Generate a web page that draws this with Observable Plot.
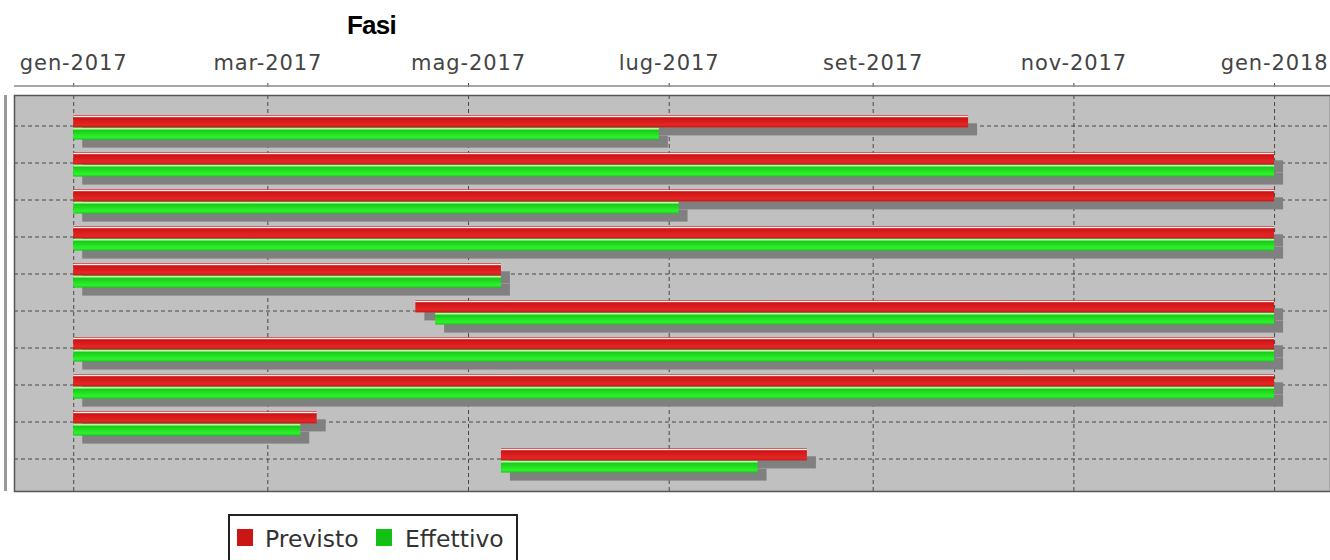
<!DOCTYPE html>
<html>
<head>
<meta charset="utf-8">
<script src="https://cdn.jsdelivr.net/npm/d3@7"></script>
<script src="https://cdn.jsdelivr.net/npm/@observablehq/plot@0.6"></script>
<style>
  html, body { margin: 0; padding: 0; background: #fff; overflow: hidden; }
  #wrap { position: relative; width: 1330px; height: 560px; overflow: hidden; background: #fff; }
  #chart { position: absolute; left: 0; top: 0; }
  #title { position: absolute; left: 347px; top: 12px; font: bold 26px "Liberation Sans", Arial, sans-serif; line-height: 26px; letter-spacing: -0.8px; color: #000; white-space: nowrap; }
  #legend { position: absolute; left: 228px; top: 514px; width: 290px; height: 70px; border: 2px solid #222; box-sizing: border-box; background: #fff; }
  #legend .sw { position: absolute; top: 13px; width: 16px; height: 17px; }
  #legend .lt { position: absolute; top: 11px; font: 23.5px "DejaVu Sans", sans-serif; line-height: 24px; color: #333; white-space: nowrap; }
</style>
</head>
<body>
<div id="wrap">
  <div id="chart"></div>
  <div id="title">Fasi</div>
  <div id="legend"></div>
</div>
<script>
// ---- data ----
const categories = ["Fase 1","Fase 2","Fase 3","Fase 4","Fase 5","Fase 6","Fase 7","Fase 8","Fase 9","Fase 10"];
const previstoStart  = ["2017-01-01","2017-01-01","2017-01-01","2017-01-01","2017-01-01","2017-04-15","2017-01-01","2017-01-01","2017-01-01","2017-05-11"];
const previstoEnd    = ["2017-09-30","2018-01-01","2018-01-01","2018-01-01","2017-05-11","2018-01-01","2018-01-01","2018-01-01","2017-03-16","2017-08-12"];
const effettivoStart = ["2017-01-01","2017-01-01","2017-01-01","2017-01-01","2017-01-01","2017-04-21","2017-01-01","2017-01-01","2017-01-01","2017-05-11"];
const effettivoEnd   = ["2017-06-28","2018-01-01","2017-07-04","2018-01-01","2017-05-11","2018-01-01","2018-01-01","2018-01-01","2017-03-11","2017-07-28"];
const seriesNames = ["Previsto","Effettivo"];
const seriesColors = ["#cc1515","#15c015"];
const tickDates  = ["2017-01-01","2017-03-01","2017-05-01","2017-07-01","2017-09-01","2017-11-01","2018-01-01"];
const tickLabels = ["gen-2017","mar-2017","mag-2017","lug-2017","set-2017","nov-2017","gen-2018"];
const xDomain = ["2016-12-14","2018-01-18"];

// ---- build ----
const parse = s => new Date(s + "T00:00:00Z");
const previsto  = categories.map((c, i) => ({fase: c, start: parse(previstoStart[i]),  end: parse(previstoEnd[i])}));
const effettivo = categories.map((c, i) => ({fase: c, start: parse(effettivoStart[i]), end: parse(effettivoEnd[i])}));
const ticks = tickDates.map(parse);
const labelOf = new Map(ticks.map((t, i) => [+t, tickLabels[i]]));

const redPos   = {insetTop: 8.3,  insetBottom: 16.6};
const greenPos = {insetTop: 20.6, insetBottom: 4.4};
const shadow = {fill: "#808080", dx: 9, dy: 8};
const gridStyle = {stroke: "#333", strokeOpacity: 0.85, strokeDasharray: "4,3", strokeWidth: 1};

const plot = Plot.plot({
  width: 1330,
  height: 500,
  marginTop: 95,
  marginBottom: 9,
  marginLeft: 14,
  marginRight: 0,
  style: {fontFamily: "DejaVu Sans", background: "transparent", letterSpacing: "0.9px", overflow: "visible"},
  x: {type: "utc", domain: xDomain.map(parse)},
  y: {type: "band", domain: categories, range: [106.4, 478.4], padding: 0, axis: null},
  marks: [
    Plot.frame({fill: "#c0c0c0"}),
    Plot.gridX(ticks, gridStyle),
    Plot.gridY(categories, gridStyle),
    Plot.barX(previsto, {y: "fase", x1: "start", x2: "end", ...redPos, ...shadow}),
    Plot.barX(previsto, {y: "fase", x1: "start", x2: "end", ...redPos, fill: "url(#gradRed)"}),
    Plot.barX(effettivo, {y: "fase", x1: "start", x2: "end", ...greenPos, ...shadow}),
    Plot.barX(effettivo, {y: "fase", x1: "start", x2: "end", ...greenPos, fill: "url(#gradGreen)"}),
    Plot.frame({stroke: "#555", strokeWidth: 1.5}),
    Plot.axisX(ticks, {anchor: "top", tickSize: 4, tickPadding: 13, dy: -9, tickFormat: d => labelOf.get(+d), fontSize: 21, color: "#444"})
  ]
});

const svg = d3.select(plot);
const defs = svg.insert("defs", ":first-child");
function grad(id, c0, c1, hi) {
  const g = defs.append("linearGradient").attr("id", id).attr("x1", 0).attr("y1", 0).attr("x2", 0).attr("y2", 1);
  [[0, c0], [0.1, hi], [0.2, c0], [0.8, c1], [1, c0]].forEach(([o, c]) => g.append("stop").attr("offset", o).attr("stop-color", c));
}
grad("gradRed", "#cc1414", "#e42626", "#fff0f0");
grad("gradGreen", "#14cc14", "#30f030", "#fffbe0");

// axis line above the plot area, and category axis line on the left
const xs = plot.scale("x");
svg.append("line").attr("x1", xs.range[0]).attr("x2", xs.range[1]).attr("y1", 86).attr("y2", 86)
  .attr("stroke", "#888").attr("stroke-width", 1.5);
svg.append("line").attr("x1", 5.5).attr("x2", 5.5).attr("y1", 95).attr("y2", 491)
  .attr("stroke", "#999").attr("stroke-width", 3);

document.getElementById("chart").appendChild(plot);

// legend
const legend = document.getElementById("legend");
const swLeft = [7, 146], txtLeft = [35, 175];
seriesNames.forEach((name, i) => {
  const sw = document.createElement("div");
  sw.className = "sw"; sw.style.left = swLeft[i] + "px"; sw.style.background = seriesColors[i];
  legend.appendChild(sw);
  const t = document.createElement("div");
  t.className = "lt"; t.style.left = txtLeft[i] + "px"; t.textContent = name;
  legend.appendChild(t);
});
</script>
</body>
</html>
